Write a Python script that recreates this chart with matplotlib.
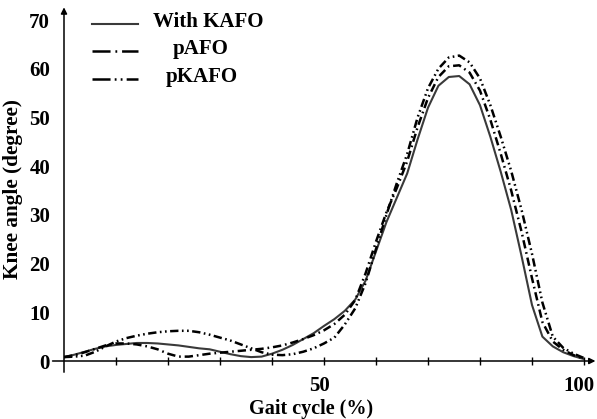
import matplotlib
matplotlib.use("Agg")
import matplotlib.pyplot as plt
from matplotlib.lines import Line2D
import matplotlib.transforms as mtransforms

plt.rcParams['font.family'] = ['Liberation Serif', 'DejaVu Serif']
plt.rcParams['font.weight'] = 'bold'
plt.rcParams['lines.scale_dashes'] = False

# ---- data ----
gait = [0, 2, 4, 6, 8, 10, 12, 14, 16, 18, 20, 22, 24, 26, 28, 30, 32, 34, 36, 38,
        40, 42, 44, 46, 48, 50, 52, 54, 56, 58, 60, 62, 64, 66, 68, 70, 72, 74, 76, 78,
        80, 82, 84, 86, 88, 90, 92, 94, 96, 98, 100]

with_kafo = [0.8, 1.3, 1.9, 2.5, 3.0, 3.3, 3.5, 3.7, 3.7, 3.6, 3.4, 3.2, 2.9, 2.6, 2.4, 1.9, 1.4, 1.0, 0.8, 0.9,
             1.5, 2.3, 3.3, 4.5, 5.7, 7.2, 8.6, 10.3, 12.6, 16.5, 22.5, 28.5, 33.5, 38.5, 45.5, 52.0, 56.5, 58.3, 58.5, 56.8,
             52.5, 46.0, 38.8, 31.0, 21.5, 11.5, 5.0, 3.0, 1.8, 1.0, 0.4]

pafo = [0.8, 1.2, 1.8, 2.5, 3.2, 3.6, 3.6, 3.4, 3.0, 2.4, 1.5, 0.9, 0.9, 1.2, 1.5, 1.7, 1.9, 2.1, 2.3, 2.5,
        2.8, 3.2, 3.8, 4.5, 5.3, 6.3, 7.6, 9.5, 12.5, 18.0, 24.5, 30.5, 35.5, 41.0, 48.0, 54.0, 58.3, 60.5, 60.7, 59.2,
        55.5, 49.5, 42.5, 35.0, 26.5, 17.0, 8.0, 4.0, 2.3, 1.2, 0.5]

pkafo = [0.8, 0.9, 1.1, 1.9, 3.0, 4.0, 4.7, 5.2, 5.6, 5.9, 6.1, 6.2, 6.2, 5.9, 5.4, 4.8, 4.2, 3.4, 2.6, 1.8,
         1.3, 1.2, 1.4, 1.9, 2.6, 3.6, 4.8, 7.5, 10.8, 16.0, 23.0, 30.0, 36.5, 42.5, 50.0, 56.0, 60.0, 62.3, 62.7, 61.3,
         58.0, 52.5, 46.0, 39.0, 31.0, 22.0, 12.0, 5.0, 2.7, 1.5, 0.6]

series_names = ["With KAFO", "pAFO", "pKAFO"]
x_ticks = [10, 20, 30, 40, 50, 60, 70, 80, 90, 100]
x_ticklabels = ["", "", "", "", "50", "", "", "", "", "100"]
y_ticks = [0, 10, 20, 30, 40, 50, 60, 70]

# ---- figure ----
fig = plt.figure(figsize=(5.97, 4.19), dpi=100)
ax = fig.add_axes([64 / 597, 1 - 361 / 419, 520 / 597, 341 / 419])

styles = [
    dict(color='#3a3a3a', lw=1.5, ls='-'),
    dict(color='black', lw=1.8, ls=(0, (6.0, 2.8, 1.2, 2.8))),
    dict(color='black', lw=1.8, ls=(0, (6.0, 2.5, 1.2, 2.5, 1.2, 2.5))),
]
for ys, st in zip([with_kafo, pafo, pkafo], styles):
    ax.plot(gait, ys, **st)

ax.set_xlim(0, 100)
ax.set_ylim(0, 70)
for s in ax.spines.values():
    s.set_visible(False)

ax.set_xticks(x_ticks)
ax.set_xticklabels(x_ticklabels)
ax.set_yticks(y_ticks)
ax.set_yticklabels([str(v) for v in y_ticks])
ax.tick_params(axis='x', direction='inout', length=6, width=1, pad=8, labelsize=15)
ax.tick_params(axis='y', length=0, pad=10, labelsize=15)
shift = mtransforms.ScaledTranslation(-5 / 100, 0, fig.dpi_scale_trans)
for lab in ax.get_xticklabels():
    lab.set_fontweight('bold')
    lab.set_transform(lab.get_transform() + shift)
for lab in ax.get_yticklabels():
    lab.set_fontweight('bold')

# axis lines with arrows
ax.annotate('', xy=(102.2, 0), xytext=(-2.2, 0), xycoords='data',
            arrowprops=dict(arrowstyle='-|>', lw=1.1, color='black',
                            mutation_scale=9, shrinkA=0, shrinkB=0),
            annotation_clip=False)
ax.annotate('', xy=(0, 72.6), xytext=(0, -2.3), xycoords='data',
            arrowprops=dict(arrowstyle='-|>', lw=1.1, color='black',
                            mutation_scale=9, shrinkA=0, shrinkB=0),
            annotation_clip=False)

fig.text(311 / 597, 1 - 409 / 419, "Gait cycle (%)", ha='center', va='center',
         fontsize=14.5, fontweight='bold')
fig.text(13 / 597, 1 - 189 / 419, "Knee angle (degree)", ha='center', va='center',
         rotation=90, fontsize=15.3, fontweight='bold')

# legend (manual)
leg_y = [24, 51, 79]
leg_text_x = [208, 201, 202]
leg_styles = [
    dict(color='#3a3a3a', lw=1.5, ls='-'),
    dict(color='black', lw=1.8, ls=(0, (13, 3.5, 1.3, 3.5))),
    dict(color='black', lw=1.8, ls=(0, (13, 3.0, 1.3, 3.0, 1.3, 3.0))),
]
for name, yy, tx, st in zip(series_names, leg_y, leg_text_x, leg_styles):
    fig.add_artist(Line2D([92 / 597, 138 / 597], [1 - yy / 419, 1 - yy / 419],
                          transform=fig.transFigure, **st))
    fig.text(tx / 597, 1 - (yy - 2) / 419, name, ha='center', va='center',
             fontsize=15, fontweight='bold')

fig.savefig("out.png", dpi=100)
